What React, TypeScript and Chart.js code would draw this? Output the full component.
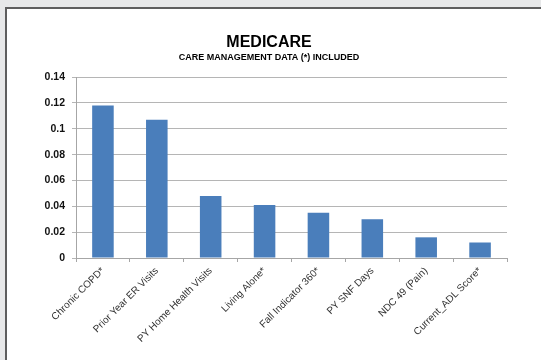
import React, { useEffect, useRef } from "react";
import { Chart, registerables } from "chart.js";

Chart.register(...registerables);

const categories = [
  "Chronic COPD*",
  "Prior Year ER Visits",
  "PY Home Health Visits",
  "Living Alone*",
  "Fall Indicator 360*",
  "PY SNF Days",
  "NDC 49 (Pain)",
  "Current_ADL Score*",
];
const values = [0.118, 0.107, 0.048, 0.041, 0.035, 0.03, 0.016, 0.012];
const titleText = "MEDICARE";
const subtitleText = "CARE MANAGEMENT DATA (*) INCLUDED";
const yMax = 0.14;
const yStep = 0.02;

export default function App() {
  const ref = useRef<HTMLCanvasElement>(null);
  useEffect(() => {
    const prev = document.body.style.margin;
    document.body.style.margin = "0";
    const chart = new Chart(ref.current!, {
      type: "bar",
      data: {
        labels: categories,
        datasets: [
          {
            data: values,
            backgroundColor: "#4a7ebb",
            borderWidth: 0,
            barPercentage: 0.4,
            categoryPercentage: 1,
          },
        ],
      },
      options: {
        responsive: false,
        animation: false,
        layout: { padding: { left: 31, right: 34, top: 32.5, bottom: 0 } },
        plugins: {
          legend: { display: false },
          tooltip: { enabled: false },
          title: {
            display: true,
            text: titleText,
            color: "#000",
            font: { family: "'Liberation Sans', Arial, sans-serif", size: 16, weight: "bold", lineHeight: 1.2 },
            padding: { top: 0, bottom: 0.5 },
          },
          subtitle: {
            display: true,
            text: subtitleText,
            color: "#000",
            font: { family: "'Liberation Sans', Arial, sans-serif", size: 9, weight: "bold", lineHeight: 1.2 },
            padding: { top: 0, bottom: 14.1 },
          },
        },
        scales: {
          x: {
            afterFit: (s: any) => {
              s.height = 102;
            },
            grid: {
              offset: true,
              drawOnChartArea: false,
              drawTicks: true,
              tickLength: 4,
              color: "#a6a6a6",
            },
            border: { display: true, color: "#a6a6a6" },
            ticks: {
              autoSkip: false,
              minRotation: 45,
              maxRotation: 45,
              padding: 3,
              color: "#333",
              font: { family: "'Liberation Sans', Arial, sans-serif", size: 10 },
            },
          },
          y: {
            min: 0,
            max: yMax,
            afterFit: (s: any) => {
              s.width = 45;
            },
            grid: {
              color: "#b5b5b5",
              tickLength: 4,
              drawTicks: true,
            },
            border: { display: true, color: "#a6a6a6" },
            ticks: {
              stepSize: yStep,
              padding: 7,
              color: "#111",
              font: { family: "'Liberation Sans', Arial, sans-serif", size: 10.5, weight: "bold" },
              callback: (v: any) => String(Math.round(Number(v) * 100) / 100),
            },
          },
        },
      },
    });
    return () => {
      chart.destroy();
      document.body.style.margin = prev;
    };
  }, []);
  return (
    <div style={{ position: "absolute", left: 0, top: 0, width: 541, height: 360, background: "#e7e8e9", overflow: "hidden" }}>
      <div
        style={{
          position: "absolute",
          left: 5,
          top: 7,
          width: 600,
          height: 400,
          background: "#fff",
          borderLeft: "2px solid #5e5e5e",
          borderTop: "2px solid #5e5e5e",
        }}
      />
      <canvas ref={ref} width={541} height={360} style={{ position: "absolute", left: 0, top: 0 }} />
    </div>
  );
}
